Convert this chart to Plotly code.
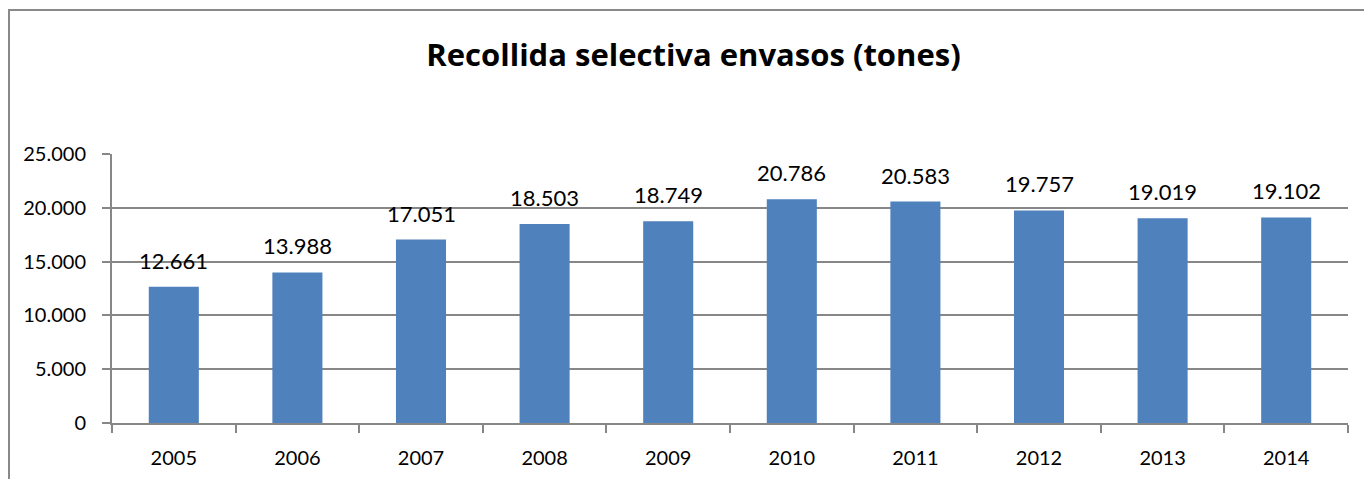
import plotly.graph_objects as go

years = ["2005", "2006", "2007", "2008", "2009", "2010", "2011", "2012", "2013", "2014"]
tones = [12661, 13988, 17051, 18503, 18749, 20786, 20583, 19757, 19019, 19102]
y_ticks = [0, 5000, 10000, 15000, 20000, 25000]

# page has an 8px body margin; figure occupies page x 8..1372, y 8..479
OFF = 8
W, H = 1372 - OFF, 479 - OFF
L, R, T, B = 112 - OFF, 24, 154 - OFF, 56
pw, ph = W - L - R, H - T - B

fig = go.Figure(go.Bar(
    x=years, y=tones,
    marker=dict(color="#4F81BD", line=dict(width=0)),
    width=0.405,
    hoverinfo="x+y",
))

# value labels above the bars (category index positions on the category axis)
for i, v in enumerate(tones):
    fig.add_annotation(x=i, y=v, xref="x", yref="y",
                       text=f"{v:,}".replace(",", "."),
                       showarrow=False, yanchor="bottom", xanchor="center", yshift=11,
                       font=dict(family="Lato", size=22, color="#000000"))

grid = "#878787"
fig.update_layout(
    width=W, height=H,
    margin=dict(l=L, r=R, t=T, b=B, autoexpand=False),
    paper_bgcolor="white", plot_bgcolor="white",
    separators=",.",
    showlegend=False,
    title=dict(text="<b>Recollida selectiva envasos (tones)</b>",
               font=dict(family="Open Sans", size=31, color="#000000"),
               x=(693.5 - OFF) / W, xref="container", xanchor="center",
               y=1 - (55 - OFF) / H, yref="container", yanchor="middle"),
    xaxis=dict(type="category", categoryorder="array", categoryarray=years,
               range=[-0.5, len(years) - 0.5], autorange=False,
               showgrid=False, showline=True, linecolor=grid, linewidth=2,
               ticks="outside", tickson="boundaries", ticklen=8, tickcolor=grid, tickwidth=2,
               tickfont=dict(family="Lato", size=20, color="#000000"),
               tickangle=0, ticklabelstandoff=16, automargin=False),
    yaxis=dict(range=[0, 25000], autorange=False, tickvals=y_ticks, tickformat=",d",
               showgrid=True, gridcolor=grid, gridwidth=1.5,
               showline=True, linecolor=grid, linewidth=2,
               ticks="outside", ticklen=8, tickcolor=grid, tickwidth=2,
               tickfont=dict(family="Lato", size=20, color="#000000"),
               ticklabelstandoff=12, zeroline=False, automargin=False),
    shapes=[dict(type="rect", xref="paper", yref="paper",
                 x0=(1 - L) / pw, x1=(W + 20 - L) / pw,
                 y0=-(B + 20) / ph, y1=(H - B - 2) / ph,
                 line=dict(color="#898989", width=2), fillcolor="rgba(0,0,0,0)", layer="below")],
)

fig.write_html("out.html")
